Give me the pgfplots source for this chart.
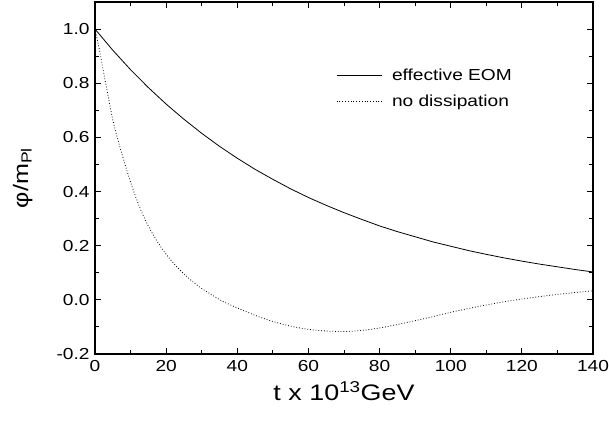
\documentclass[border=0pt]{standalone}
\usepackage{fontspec}
\setmainfont{Liberation Sans}[FakeStretch=1.2]
\usepackage{pgfplots}
\pgfplotsset{compat=1.18}
\usetikzlibrary{calc}
\begin{document}
\begin{tikzpicture}
\begin{axis}[name=ax, scale only axis, width=498bp, height=352bp,
  xmin=0, xmax=140, ymin=-0.2, ymax=1.1,
  xtick={0,20,...,140}, ytick={-0.2,0,0.2,0.4,0.6,0.8,1.0},
  minor x tick num=1, minor y tick num=1,
  major tick length=6bp, minor tick length=4bp,
  axis line style={line width=1.3pt}, tick style={line width=0.9pt, black},
  ticklabel style={font=\fontsize{16}{18}\selectfont},
  xticklabel style={yshift=-3bp},
  yticklabel style={xshift=-2bp, /pgf/number format/.cd, fixed, fixed zerofill, precision=1},
  /pgf/number format/assume math mode=true,
  xlabel={t x 10\textsuperscript{13}GeV}, ylabel={φ/m\textsubscript{Pl}},
  every axis x label/.style={at={(axis description cs:0.5,-0.105)}, anchor=center,
    font=\fontsize{22.5}{26}\selectfont},
  every axis y label/.style={at={(axis description cs:-0.145,0.5)}, rotate=90, anchor=center,
    font=\fontsize{21}{24}\selectfont},
  legend style={draw=none, fill=none, at={(axis description cs:0.478,0.822)}, anchor=north west,
    font=\fontsize{16}{19}\selectfont, row sep=9bp,
    /tikz/every odd column/.append style={column sep=8bp}},
  legend cell align=left,
  legend image code/.code={\draw[#1] (0bp,0bp) -- (45bp,0bp);},
]
\addplot[black, line width=0.8pt] coordinates {
(0,1.000) (5,0.922) (10,0.850) (15,0.784) (20,0.723) (25,0.667) (30,0.615)
(35,0.567) (40,0.523) (45,0.482) (50,0.445) (55,0.410) (60,0.378) (65,0.349)
(70,0.322) (75,0.297) (80,0.273) (85,0.252) (90,0.233) (95,0.214) (100,0.198)
(105,0.182) (110,0.168) (115,0.155) (120,0.143) (125,0.132) (130,0.122)
(135,0.112) (140,0.103)
};
\addlegendentry{effective EOM}
\addplot[black, line width=0.8pt, dotted, smooth] coordinates {
(0,1.0) (1,0.94) (2,0.87) (3,0.80) (4,0.73) (5,0.665) (6,0.612) (7.5,0.542)
(9,0.476) (10.5,0.415) (12,0.36) (13.5,0.313) (15,0.272) (17,0.226)
(19,0.186) (21,0.152) (23,0.122) (25,0.096) (27.5,0.067) (30,0.042)
(33,0.017) (36,-0.006) (40,-0.030) (45,-0.057) (50,-0.080) (55,-0.097)
(60,-0.109) (65,-0.115) (70,-0.117) (75,-0.113) (80,-0.104) (85,-0.091)
(90,-0.077) (95,-0.062) (100,-0.046) (105,-0.032) (110,-0.019) (115,-0.007)
(120,0.003) (125,0.012) (130,0.020) (135,0.027) (140,0.033)
};
\addlegendentry{no dissipation}
\end{axis}
\pgfresetboundingbox
\path ($(ax.south west)+(-95bp,-73bp)$) rectangle ($(ax.north east)+(16bp,2bp)$);
\end{tikzpicture}
\end{document}
